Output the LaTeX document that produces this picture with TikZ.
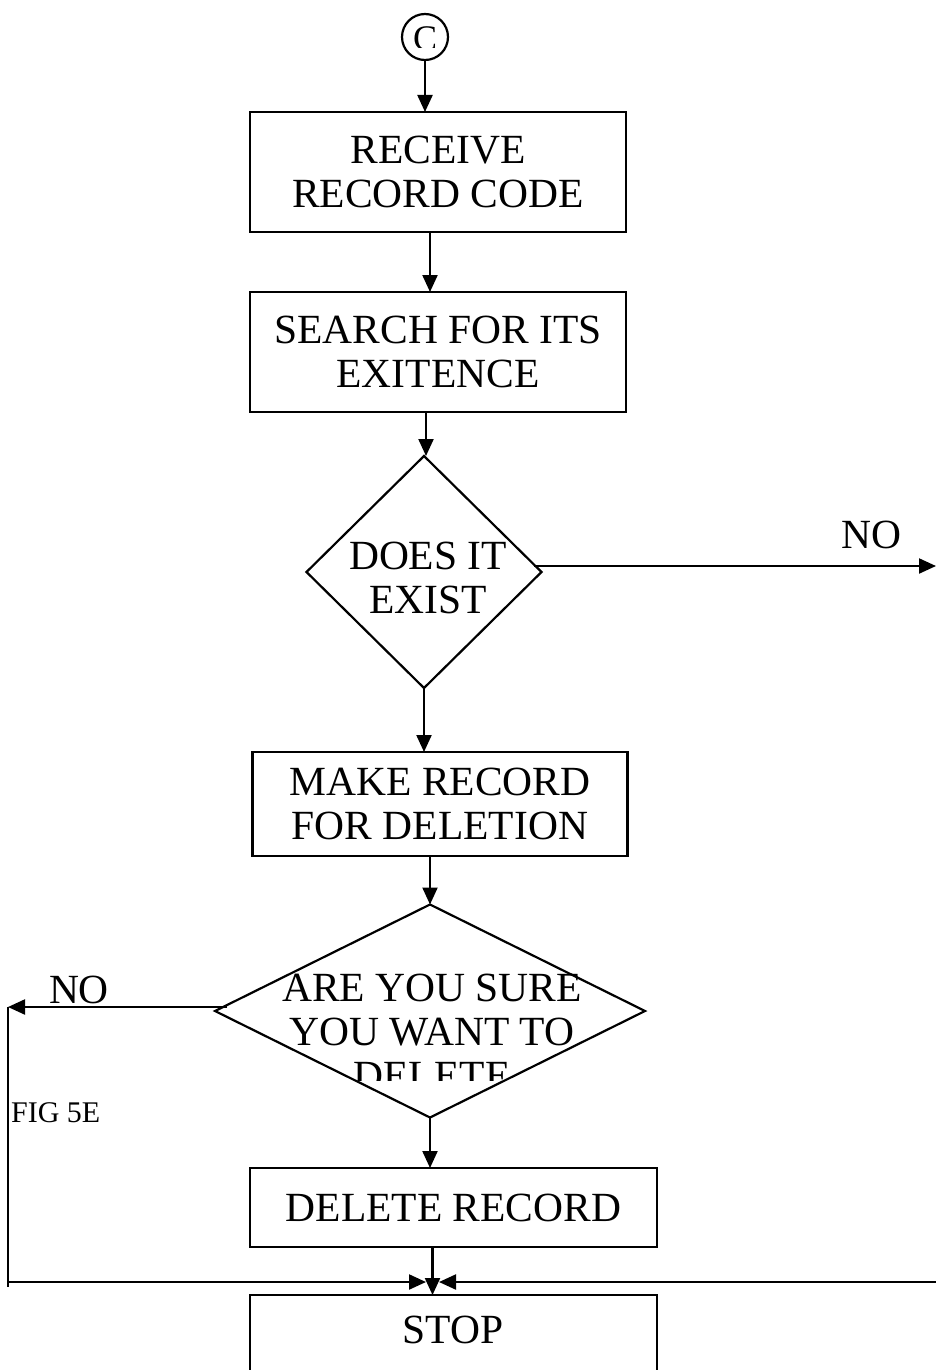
\documentclass[tikz,border=0pt]{standalone}
\usepackage{fontspec}
\setmainfont{Liberation Serif}
\usetikzlibrary{shapes.geometric,arrows.meta}
\newcommand\bigtxt{\fontsize{41.5}{44}\selectfont}
\newcommand\figtxt{\fontsize{30}{32}\selectfont}
\newcommand\ctxt{\fontsize{36}{38}\selectfont}
\begin{document}
\begin{tikzpicture}[x=1pt,y=-1pt,
  line width=2.2pt,
  box/.style={draw,rectangle,inner sep=0pt,outer sep=0pt,align=center,font=\bigtxt},
  dia/.style={draw,diamond,inner sep=0pt,outer sep=0pt},
  txt/.style={inner sep=0pt,align=center,font=\bigtxt},
  arr/.style={-{Triangle[length=17pt,width=15pt]}}]
\useasboundingbox (0,0) rectangle (936,1370);
\clip (0,0) rectangle (936,1370);
% connector circle
\node[circle,draw,minimum size=46pt,inner sep=0pt] (c) at (425,37) {};
\begin{scope}
\clip (400,10) rectangle (450,48);
\node[inner sep=0pt,font=\ctxt] (ct) at (425,39) {C};
\end{scope}
% boxes
\node[box,minimum width=376pt,minimum height=120pt] (b1) at (438,172) {RECEIVE\\RECORD CODE};
\node[box,minimum width=376pt,minimum height=120pt] (b2) at (438,352) {SEARCH FOR ITS\\EXITENCE};
\node[dia,minimum width=235pt,minimum height=232pt] (d1) at (424,572) {};
\node[txt] (d1t) at (428,578) {DOES IT\\EXIST};
\node[box,minimum width=375pt,minimum height=104pt] (b3) at (440,804) {MAKE RECORD\\FOR DELETION};
\node[dia,minimum width=430pt,minimum height=213pt] (d2) at (430,1011) {};
\begin{scope}
\clip (200,900) rectangle (700,1080);
\node[txt] (d2t) at (432,1032) {ARE YOU SURE\\YOU WANT TO\\DELETE};
\end{scope}
\node[box,minimum width=407pt,minimum height=79pt] (b4) at (453.5,1207.5) {DELETE RECORD};
\node[box,minimum width=407pt,minimum height=100pt] (sb) at (453.5,1345) {};
\node[txt] (st) at (453,1330) {STOP};
% labels
\node[txt] (no1) at (871,535) {NO};
\node[txt] (no2) at (79,990) {NO};
\node[inner sep=0pt,font=\figtxt,anchor=west] (fig) at (10,1113) {FIG 5E};
% coordinates for free ends
\coordinate (R0) at (936,566);
\coordinate (L1) at (8,1007);
\coordinate (L2) at (8,1287);
\coordinate (L3) at (8,1282);
\coordinate (M1) at (426,1282);
\coordinate (R1) at (936,1282);
\coordinate (M2) at (439,1282);
% connectors
\draw[arr] (c.south) -- (c.south |- b1.north);
\draw[arr] ([xshift=-8pt]b1.south) -- ([xshift=-8pt]b1.south |- b2.north);
\draw[arr] ([xshift=-12pt]b2.south) -- ([xshift=-12pt]b2.south |- d1.north);
\draw[arr] (d1.south) -- (d1.south |- b3.north);
\draw[arr] (d2.north |- b3.south) -- (d2.north);
\draw[arr] (d2.south) -- (d2.south |- b4.north);
\draw[arr] ([xshift=-21pt]b4.south) -- ([xshift=-21pt]b4.south |- sb.north);
\draw[arr] ([xshift=-8pt,yshift=6pt]d1.east) -- (R0);
\draw[arr] ([xshift=12pt,yshift=4pt]d2.west) -- (L1);
\draw (L1) -- (L2);
\draw[arr] (L3) -- (M1);
\draw[arr] (R1) -- (M2);
\end{tikzpicture}
\end{document}
